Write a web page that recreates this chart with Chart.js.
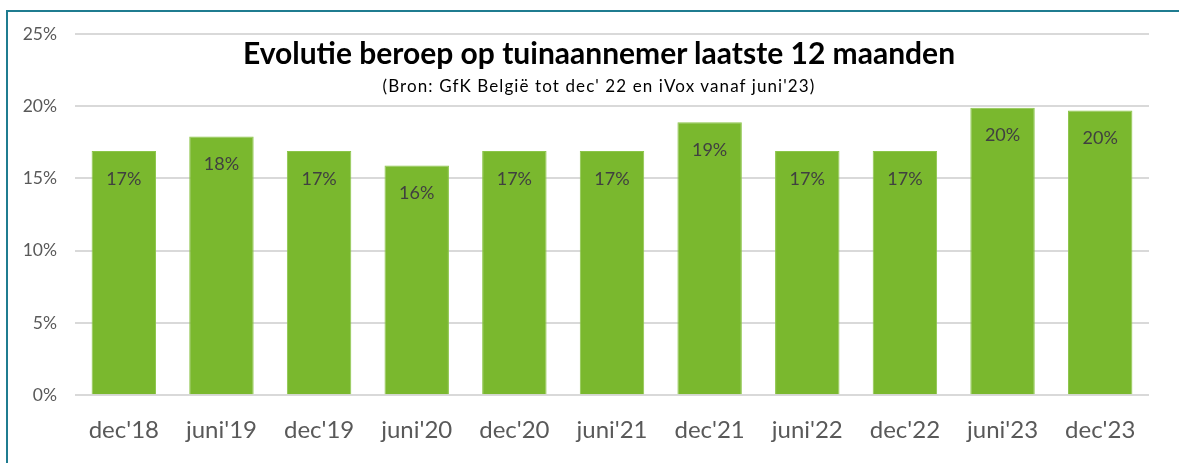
<!DOCTYPE html>
<html>
<head>
<meta charset="utf-8">
<script src="https://cdn.jsdelivr.net/npm/chart.js@4/dist/chart.umd.min.js"></script>
<style>
    html, body { margin: 0; padding: 0; background: #fff; }
    #wrap { position: relative; width: 1179px; height: 463px; overflow: hidden; }
    #frame { position: absolute; left: 6px; top: 10px; width: 1200px; height: 500px; border: 2px solid #1F7C90; box-sizing: border-box; pointer-events: none; }
    #chartTitle { position: absolute; left: 0; width: 1198px; top: 34px; text-align: center; font: bold 30px Lato, sans-serif; color: #000; }
    #chartSub { position: absolute; left: 0; width: 1198px; top: 75px; text-align: center; font: 17px Lato, sans-serif; letter-spacing: 1.1px; color: #000; }
</style>
</head>
<body>
<div id="wrap">
    <canvas id="barChart" width="1179" height="463"></canvas>
    <div id="frame"></div>
    <div id="chartTitle">Evolutie beroep op tuinaannemer laatste 12 maanden</div>
    <div id="chartSub">(Bron: GfK België tot dec' 22 en iVox vanaf juni'23)</div>
</div>
<script>
const periods = ["dec'18", "juni'19", "dec'19", "juni'20", "dec'20", "juni'21", "dec'21", "juni'22", "dec'22", "juni'23", "dec'23"];
const shares = [16.9, 17.9, 16.9, 15.9, 16.9, 16.9, 18.9, 16.9, 16.9, 19.9, 19.7];
const yTicks = [0, 5, 10, 15, 20, 25];

// labels inside the bars, near the top
const barLabels = {
    id: 'barLabels',
    afterDatasetsDraw(chart) {
        const ctx = chart.ctx;
        const meta = chart.getDatasetMeta(0);
        ctx.save();
        ctx.font = '18px Lato, sans-serif';
        ctx.fillStyle = '#404040';
        ctx.textAlign = 'center';
        ctx.textBaseline = 'middle';
        meta.data.forEach((bar, i) => {
            ctx.fillText(Math.round(shares[i]) + '%', bar.x, bar.y + 28);
        });
        ctx.restore();
    }
};

const ctx = document.getElementById('barChart').getContext('2d');
new Chart(ctx, {
    type: 'bar',
    data: {
        labels: periods,
        datasets: [{
            data: shares,
            backgroundColor: '#7AB82E',
            borderColor: '#8CC54A',
            borderWidth: 1,
            categoryPercentage: 1,
            barPercentage: 0.66
        }]
    },
    options: {
        responsive: false, animation: false,
        layout: { padding: { left: 0, right: 30, top: 34, bottom: 5 } },
        plugins: { legend: { display: false }, tooltip: { enabled: false } },
        scales: {
            x: {
                grid: { display: false },
                border: { display: false },
                ticks: { color: '#595959', font: { family: 'Lato', size: 24 }, padding: 13, maxRotation: 0 }
            },
            y: {
                min: 0, max: 25,
                afterFit: s => { s.width = 75; },
                afterBuildTicks: s => { s.ticks = yTicks.map(v => ({ value: v })); },
                grid: { color: '#D9D9D9', lineWidth: 2, drawTicks: false },
                border: { display: false },
                ticks: { color: '#595959', font: { family: 'Lato', size: 17.5 }, padding: 18, callback: v => v + '%' }
            }
        }
    },
    plugins: [barLabels]
});
</script>
</body>
</html>
